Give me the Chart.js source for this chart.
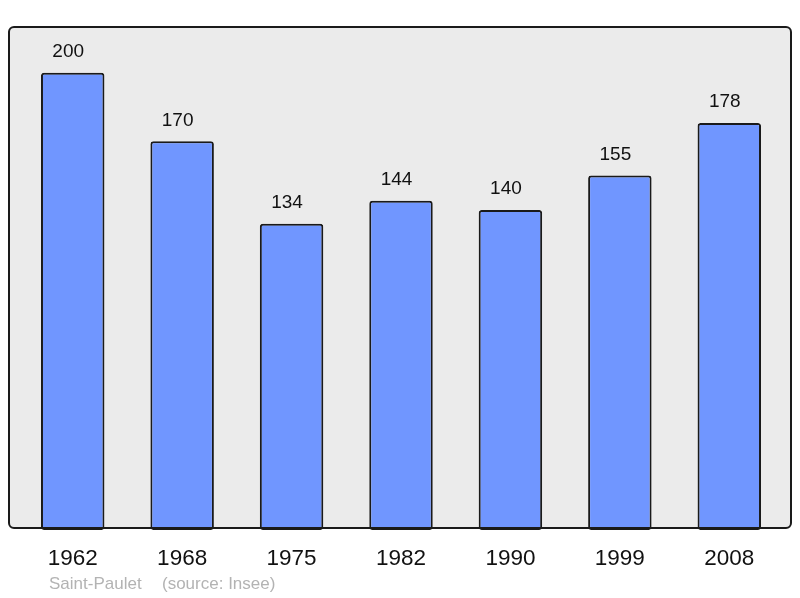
<!DOCTYPE html>
<html>
<head>
<meta charset="utf-8">
<script src="https://cdn.jsdelivr.net/npm/chart.js@4"></script>
<style>
  html, body { margin:0; padding:0; background:#fff; }
  #wrap { width:800px; height:598px; }
</style>
</head>
<body>
<div id="wrap"><canvas id="chart" width="800" height="598"></canvas></div>
<script>
// data
let years = ["1962","1968","1975","1982","1990","1999","2008"];
let population = [200, 170, 134, 144, 140, 155, 178];
let commune = "Saint-Paulet";
let source = "(source: Insee)";

/* grey box behind the bars */
let boxPlugin = {
    id: "box",
    beforeDraw(c){
        let ctx = c.ctx;
        ctx.save();
        ctx.beginPath();
        ctx.roundRect(9, 27, 782, 501, 5);
        ctx.fillStyle = "#ebebeb";
        ctx.fill();
        ctx.restore();
    },
    afterDatasetsDraw(c){
        let ctx = c.ctx;
        ctx.save();
        ctx.beginPath();
        ctx.roundRect(9, 27, 782, 501, 5);
        ctx.lineWidth = 2;
        ctx.strokeStyle = "#1a1a1a";
        ctx.stroke();
        ctx.restore();
    }
};

/* numbers on top of bars + footer text */
let labelPlugin = {
    id: "labels",
    afterDraw(c){
        let ctx = c.ctx;
        ctx.save();
        ctx.font = "19px 'Liberation Sans', Arial, sans-serif";
        ctx.fillStyle = "#111";
        ctx.textAlign = "center";
        ctx.textBaseline = "middle";
        c.getDatasetMeta(0).data.forEach((bar, i) => {
            ctx.fillText(population[i], bar.x - 4.5, bar.y - 21);
        });
        ctx.font = "17px 'Liberation Sans', Arial, sans-serif";
        ctx.fillStyle = "#b3b3b3";
        ctx.textAlign = "left";
        ctx.textBaseline = "alphabetic";
        ctx.fillText(commune, 49, 589);
        ctx.fillText(source, 162, 589);
        ctx.restore();
    }
};

new Chart(document.getElementById("chart"), {
    type: "bar",
    data: {
        labels: years,
        datasets: [{
            data: population,
            backgroundColor: "#7096ff",
            borderColor: "#1a1a1a",
            borderWidth: 2,
            borderRadius: 3,
            borderSkipped: false,
            categoryPercentage: 1,
            barPercentage: 0.58
        }]
    },
    options: {
        responsive: false,
        animation: false,
        layout: { padding: { left: 18, right: 16, top: 27, bottom: 19 } },
        plugins: { legend: { display: false }, tooltip: { enabled: false } },
        scales: {
            x: {
                grid: { display: false },
                border: { display: false },
                ticks: {
                    color: "#111",
                    padding: 7,
                    maxRotation: 0,
                    font: { family: "'Liberation Sans', Arial, sans-serif", size: 22.5 }
                }
            },
            y: {
                display: false,
                min: 0,
                max: 220
            }
        }
    },
    plugins: [boxPlugin, labelPlugin]
});
</script>
</body>
</html>
